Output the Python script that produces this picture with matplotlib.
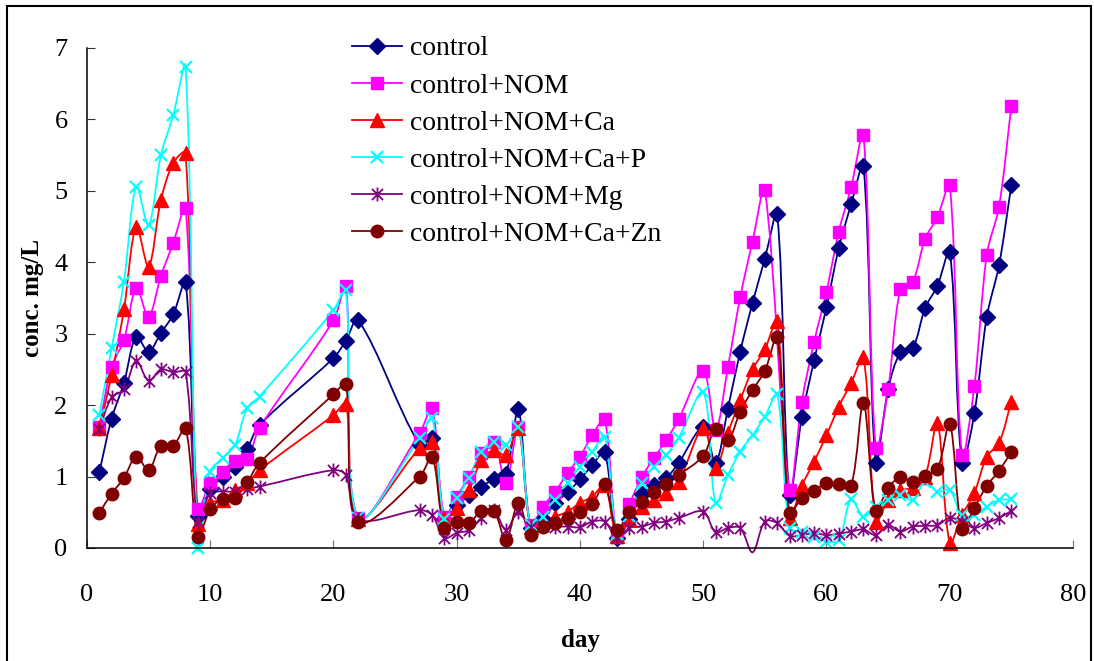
import numpy as np
import matplotlib
matplotlib.use("Agg")
import matplotlib.pyplot as plt
from matplotlib.path import Path
from matplotlib.patches import PathPatch, Rectangle
from matplotlib.lines import Line2D

plt.rcParams['font.family'] = ['Liberation Serif', 'DejaVu Serif']

# sampling days (gaps where no samples were taken)
days = [1, 2, 3, 4, 5, 6, 7, 8, 9, 10, 11, 12, 13, 14,
        20, 21, 22,
        27, 28, 29, 30, 31, 32, 33, 34, 35, 36, 37, 38, 39, 40, 41, 42, 43, 44, 45, 46, 47, 48,
        50, 51, 52, 53, 54, 55, 56, 57, 58, 59, 60, 61, 62, 63, 64, 65, 66, 67, 68, 69, 70,
        71, 72, 73, 74, 75]

control = [1.06, 1.81, 2.31, 2.96, 2.75, 3.01, 3.27, 3.72, 0.45, 0.83, 0.99, 1.14, 1.39, 1.72,
           2.66, 2.90, 3.19,
           1.44, 1.54, 0.40, 0.60, 0.74, 0.86, 0.96, 1.04, 1.94, 0.28, 0.41, 0.63, 0.78, 0.96,
           1.16, 1.34, 0.14, 0.40, 0.75, 0.88, 0.98, 1.19,
           1.69, 1.19, 1.95, 2.75, 3.43, 4.05, 4.67, 0.74, 1.83, 2.63, 3.37, 4.20, 4.81, 5.35,
           1.19, 2.22, 2.74, 2.80, 3.36, 3.67, 4.15, 1.19, 1.89, 3.23, 3.96, 5.08]

nom = [1.70, 2.54, 2.91, 3.64, 3.24, 3.81, 4.27, 4.76, 0.54, 0.91, 1.07, 1.22, 1.24, 1.68,
       3.19, 3.67, 0.42,
       1.61, 1.96, 0.44, 0.72, 1.00, 1.33, 1.49, 0.91, 1.70, 0.32, 0.58, 0.79, 1.05, 1.28,
       1.58, 1.80, 0.21, 0.61, 0.99, 1.26, 1.51, 1.80,
       2.48, 1.65, 2.53, 3.51, 4.29, 5.01, np.nan, 0.81, 2.05, 2.89, 3.59, 4.43, 5.05, 5.78,
       1.40, 2.22, 3.63, 3.73, 4.33, 4.63, 5.08, 1.30, 2.27, 4.10, 4.78, 6.19]

nom_ca = [1.68, 2.42, 3.34, 4.50, 3.94, 4.87, 5.39, 5.53, 0.33, 0.63, 0.67, 0.81, 0.91, 1.09,
          1.86, 2.02, 0.40,
          1.40, 1.49, 0.42, 0.56, 0.81, 1.23, 1.37, 1.30, 1.68, 0.30, 0.38, 0.44, 0.51, 0.63,
          0.72, 0.88, 0.17, 0.40, 0.58, 0.67, 0.77, 0.93,
          1.68, 1.12, 1.61, 2.07, 2.50, 2.78, 3.18, 0.42, 0.87, 1.21, 1.58, 1.98, 2.31, 2.67,
          0.37, 0.67, 0.81, 0.84, 1.00, 1.75, 0.07, 0.46, 0.77, 1.28, 1.47, 2.05]

nom_ca_p = [1.86, 2.80, 3.73, 5.06, 4.52, 5.50, 6.06, 6.74, 0.00, 1.07, 1.26, 1.44, 1.96, 2.12,
            3.33, 3.61, 0.42,
            1.54, 1.82, 0.40, 0.70, 0.98, 1.35, 1.49, 1.44, 1.70, 0.32, 0.44, 0.67, 0.91, 1.14,
            1.35, 1.56, 0.20, 0.45, 0.91, 1.14, 1.30, 1.54,
            2.18, 0.63, 1.02, 1.35, 1.58, 1.84, 2.15, 0.28, 0.23, 0.16, 0.09, 0.11, 0.68, 0.44,
            0.58, 0.67, 0.74, 0.67, 0.93, 0.79, 0.81, 0.46, 0.46, 0.58, 0.67, 0.68]

nom_mg = [1.66, 2.11, 2.22, 2.62, 2.34, 2.50, 2.46, 2.46, 0.37, 0.77, 0.79, 0.79, 0.83, 0.86,
          1.09, 1.02, 0.40,
          0.53, 0.46, 0.14, 0.21, 0.25, 0.42, 0.53, 0.25, 0.51, 0.29, 0.31, 0.30, 0.30, 0.29,
          0.37, 0.37, 0.14, 0.28, 0.30, 0.35, 0.37, 0.42,
          0.51, 0.22, 0.28, 0.28, -0.06, 0.37, 0.35, 0.17, 0.18, 0.21, 0.18, 0.20, 0.23, 0.26,
          0.18, 0.32, 0.23, 0.30, 0.31, 0.32, 0.42, 0.37, 0.28, 0.35, 0.42, 0.52]

nom_ca_zn = [0.49, 0.76, 0.98, 1.28, 1.09, 1.43, 1.43, 1.68, 0.16, 0.54, 0.69, 0.70, 0.92, 1.19,
             2.15, 2.29, 0.37,
             1.00, 1.28, 0.28, 0.37, 0.35, 0.52, 0.52, 0.11, 0.63, 0.18, 0.30, 0.35, 0.42, 0.51,
             0.61, 0.90, 0.25, 0.50, 0.64, 0.79, 0.90, 1.02,
             1.29, 1.66, 1.51, 1.91, 2.21, 2.48, 2.95, 0.49, 0.70, 0.80, 0.91, 0.90, 0.87, 2.03,
             0.52, 0.84, 0.99, 0.93, 1.01, 1.10, 1.74, 0.26, 0.56, 0.87, 1.08, 1.35]

labels = ["control", "control+NOM", "control+NOM+Ca", "control+NOM+Ca+P",
          "control+NOM+Mg", "control+NOM+Ca+Zn"]

# excel-like asterisk marker: an X with a vertical bar
star = Path([(-1, -1), (1, 1), (-1, 1), (1, -1), (0, -1.25), (0, 1.25)],
            [Path.MOVETO, Path.LINETO, Path.MOVETO, Path.LINETO, Path.MOVETO, Path.LINETO])

styles = [
    dict(color="#000080", marker="D", ms=8, mew=1.0),
    dict(color="#FF00FF", marker="s", ms=9, mew=1.0),
    dict(color="#FF0000", marker="^", ms=10, mew=1.0),
    dict(color="#00FFFF", marker="x", ms=9, mew=1.6),
    dict(color="#800080", marker=star, ms=10, mew=1.3),
    dict(color="#800000", marker="o", ms=9, mew=1.0),
]

# rough px per data unit, so the smoothing behaves as on screen
SX, SY = 12.35, 71.4


def smooth_path(x, y):
    # smoothed line through the points as cubic bezier segments (Excel style),
    # handle lengths scaled by neighbouring segment lengths to limit overshoot
    pts = np.column_stack([x, y])
    n = len(pts)
    scale = np.array([SX, SY])

    def seglen(a, b):
        return np.hypot(*((b - a) * scale))

    verts = [pts[0]]
    codes = [Path.MOVETO]
    for i in range(n - 1):
        p0, p1 = pts[max(i - 1, 0)], pts[i]
        p2, p3 = pts[i + 1], pts[min(i + 2, n - 1)]
        l01, l12, l23 = seglen(p0, p1), seglen(p1, p2), seglen(p2, p3)
        f1 = l12 / (l01 + l12) if l01 + l12 > 0 else 0
        f2 = l12 / (l12 + l23) if l12 + l23 > 0 else 0
        c1 = p1 + (p2 - p0) * f1 / 3.0
        c2 = p2 - (p3 - p1) * f2 / 3.0
        verts += [c1, c2, p2]
        codes += [Path.CURVE4] * 3
    return Path(verts, codes)


fig = plt.figure(figsize=(10.94, 6.61), dpi=100)
ax = fig.add_axes([0.0795, 0.171, 0.9013, 0.7564])

x = np.array(days, dtype=float)
handles = []
for vals, label, st in zip([control, nom, nom_ca, nom_ca_p, nom_mg, nom_ca_zn], labels, styles):
    y = np.array(vals, dtype=float)
    ok = ~np.isnan(y)
    ax.add_patch(PathPatch(smooth_path(x[ok], y[ok]), fill=False, edgecolor=st["color"],
                           lw=1.3, clip_on=False))
    ym = np.where(y >= 0, y, np.nan)
    ax.plot(x, ym, ls="none", marker=st["marker"], ms=st["ms"], mew=st["mew"],
            color=st["color"], clip_on=False)
    handles.append(Line2D([], [], color=st["color"], lw=1.3, marker=st["marker"],
                          ms=st["ms"], mew=st["mew"]))

ax.set_xlim(0, 80)
ax.set_ylim(0, 7)
ax.set_xticks(range(0, 81, 10))
ax.set_yticks(range(0, 8))
for side in ("top", "right"):
    ax.spines[side].set_visible(False)
for side in ("left", "bottom"):
    ax.spines[side].set_linewidth(1.1)
ax.tick_params(axis="x", direction="in", length=6, width=0.8, color="0.45",
               labelsize=19, pad=26)
ax.tick_params(axis="y", direction="in", length=6, width=0.8, color="0.2",
               labelsize=19, pad=14)

fig.text(580 / 1094, 1 - 640 / 661, "day", ha="center", va="center",
         fontsize=18, fontweight="bold")
fig.text(32 / 1094, 1 - 298 / 661, "conc. mg/L", ha="center", va="center",
         rotation=90, fontsize=18, fontweight="bold")

ax.legend(handles, labels, loc="upper left", bbox_to_anchor=(352 / 1094, 1 - 36 / 661),
          bbox_transform=fig.transFigure, frameon=False, fontsize=20, borderpad=0,
          borderaxespad=0, handlelength=1.8, handletextpad=0.3, labelspacing=0.42)

# outer border of the chart area
fig.add_artist(Rectangle((7 / 1094, -0.2), 1084 / 1094, 1.2 - 6 / 661, transform=fig.transFigure,
                         fill=False, lw=1.5, edgecolor="black"))

fig.savefig("out.png", dpi=100)
